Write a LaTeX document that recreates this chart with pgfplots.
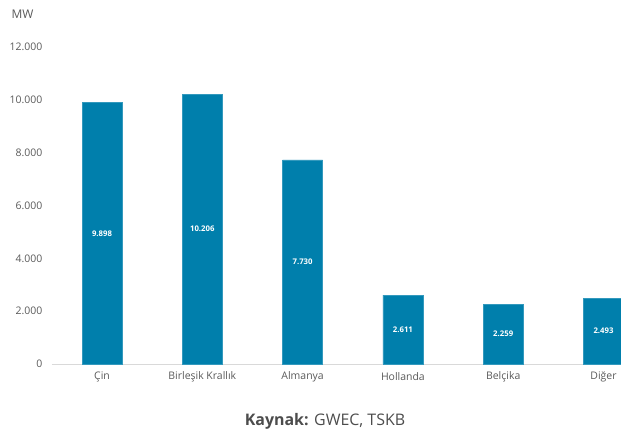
\documentclass[border=0pt]{standalone}
\usepackage{fontspec}
\setmainfont{Open Sans}
\usepackage{pgfplots}
\usepackage{pgfplotstable}
\pgfplotsset{compat=1.18}
\definecolor{barblue}{RGB}{0,127,172}
\definecolor{txtgray}{RGB}{89,89,89}
\definecolor{axgray}{RGB}{217,217,217}

\pgfplotstableread{
x  y
0  9898
1  10206
2  7730
3  2611
4  2259
5  2493
}\capacity

\begin{document}
\begin{tikzpicture}
\useasboundingbox (0,0) rectangle (621bp,432bp);
\begin{axis}[
    at={(51.85bp,68bp)}, anchor=south west,
    scale only axis,
    width=601.8bp, height=317bp,
    xmin=-0.5, xmax=5.5,
    ymin=0, ymax=12000,
    axis x line*=bottom, axis y line*=left,
    y axis line style={draw=none},
    x axis line style={draw=axgray, line width=0.8pt},
    major tick length=0pt,
    tick style={draw=none},
    xtick={0,...,5},
    xticklabels={Çin, Birleşik Krallık, Almanya, Hollanda, Belçika, Diğer},
    ytick={0,2000,...,12000},
    scaled y ticks=false,
    tick label style={font=\fontsize{10.5}{12}\selectfont, text=txtgray},
    yticklabel style={anchor=east, xshift=-6bp},
    xticklabel style={anchor=center, yshift=-13bp},
    /pgf/number format/.cd, 1000 sep={.}, fixed, precision=0, assume math mode=true,
    /pgfplots/.cd,
    clip=false,
]
\addplot[ybar, bar width=40bp, fill=barblue, draw=barblue!80!white]
    table[x=x, y=y] {\capacity};
\addplot[draw=none, mark=none, point meta=explicit, nodes near coords,
    every node near coord/.append style={anchor=center, text=white,
        font=\fontsize{7.8}{9}\bfseries\selectfont}]
    table[x=x, y expr=\thisrow{y}/2, meta=y] {\capacity};
\end{axis}
\node[anchor=west, text=txtgray, font=\fontsize{12}{14}\selectfont] at (8bp,418bp) {MW};
\node[text=txtgray!85!black, font=\fontsize{16}{18}\selectfont] at (325bp,11bp) {\textbf{Kaynak:} GWEC, TSKB};
\end{tikzpicture}
\end{document}
